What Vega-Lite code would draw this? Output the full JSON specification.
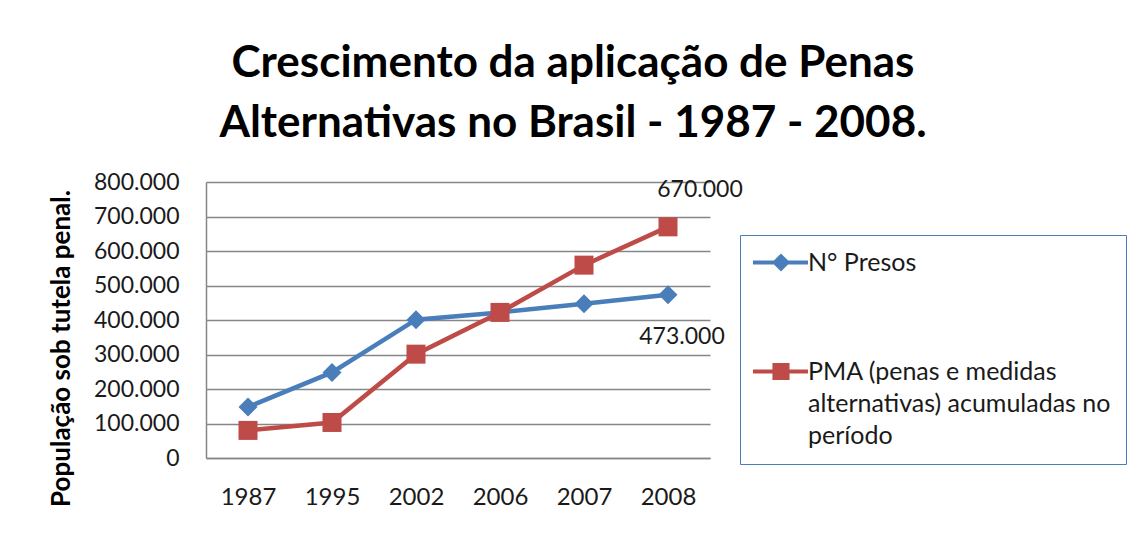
{
  "$schema": "https://vega.github.io/schema/vega-lite/v6.json",
  "width": 504,
  "height": 276,
  "autosize": {"type": "none"},
  "padding": {"left": 206, "top": 182, "right": 419, "bottom": 79},
  "background": "white",
  "config": {
    "locale": {"number": {"decimal": ",", "thousands": ".", "grouping": [3], "currency": ["R$", ""]}},
    "view": {"stroke": null},
    "font": "Lato",
    "style": {"guide-label": {"lineHeight": 32}}
  },
  "title": {
    "text": ["Crescimento da aplicação de Penas", "Alternativas no Brasil - 1987 - 2008."],
    "font": "Lato",
    "fontSize": 44,
    "fontWeight": "bold",
    "color": "#000000",
    "anchor": "middle",
    "dx": 115,
    "offset": 25,
    "lineHeight": 60
  },
  "data": {
    "values": [
      {"year": "1987", "serie": "N° Presos", "value": 148000},
      {"year": "1995", "serie": "N° Presos", "value": 248000},
      {"year": "2002", "serie": "N° Presos", "value": 401000},
      {"year": "2006", "serie": "N° Presos", "value": 422000},
      {"year": "2007", "serie": "N° Presos", "value": 447000},
      {"year": "2008", "serie": "N° Presos", "value": 473000},
      {"year": "1987", "serie": "PMA", "value": 80000},
      {"year": "1995", "serie": "PMA", "value": 103000},
      {"year": "2002", "serie": "PMA", "value": 301000},
      {"year": "2006", "serie": "PMA", "value": 422000},
      {"year": "2007", "serie": "PMA", "value": 559000},
      {"year": "2008", "serie": "PMA", "value": 670000}
    ]
  },
  "encoding": {
    "x": {
      "field": "year", "type": "ordinal",
      "scale": {"type": "point", "padding": 0.5},
      "axis": {
        "title": null, "labelAngle": 0, "labelFontSize": 24, "labelFont": "Lato",
        "labelColor": "#1a1a1a", "labelPadding": 27, "ticks": false,
        "domainColor": "#868686", "domainWidth": 1.5, "grid": false
      }
    },
    "y": {
      "field": "value", "type": "quantitative",
      "scale": {"domain": [0, 800000], "nice": false},
      "axis": {
        "title": "População sob tutela penal.",
        "titleFont": "Lato", "titleFontSize": 26, "titleFontWeight": "bold", "titleColor": "#000000",
        "titleX": -137, "titleY": 166, "titleBaseline": "alphabetic", "titleAlign": "center", "titleAngle": -90,
        "values": [0, 100000, 200000, 300000, 400000, 500000, 600000, 700000, 800000],
        "format": ",.0f",
        "labelFontSize": 23, "labelFont": "Lato", "labelColor": "#1a1a1a", "labelPadding": 27,
        "ticks": false, "domainColor": "#868686", "domainWidth": 1.5,
        "grid": true, "gridColor": "#868686", "gridWidth": 1.3
      }
    }
  },
  "resolve": {"scale": {"shape": "independent", "color": "independent"}},
  "layer": [
    {
      "mark": {"type": "line", "strokeWidth": 4.5},
      "encoding": {
        "color": {
          "field": "serie", "type": "nominal",
          "scale": {"domain": ["N° Presos", "PMA"], "range": ["#4A7EBB", "#BE4B48"]},
          "legend": null
        }
      }
    },
    {
      "mark": {"type": "point", "filled": true, "size": 361, "opacity": 1},
      "encoding": {
        "color": {
          "field": "serie", "type": "nominal",
          "scale": {"domain": ["N° Presos", "PMA"], "range": ["#4A7EBB", "#BE4B48"]},
          "legend": null
        },
        "shape": {
          "field": "serie", "type": "nominal",
          "scale": {"domain": ["N° Presos", "PMA"], "range": ["diamond", "square"]},
          "legend": null
        }
      }
    },
    {
      "transform": [{"filter": "datum.serie == 'PMA' && datum.year == '2008'"}],
      "mark": {"type": "text", "dx": 32, "dy": -37, "fontSize": 23, "font": "Lato", "color": "#1a1a1a"},
      "encoding": {"text": {"field": "value", "type": "quantitative", "format": ",.0f"}}
    },
    {
      "transform": [{"filter": "datum.serie == 'N° Presos' && datum.year == '2008'"}],
      "mark": {"type": "text", "dx": 14, "dy": 42, "fontSize": 23, "font": "Lato", "color": "#1a1a1a"},
      "encoding": {"text": {"field": "value", "type": "quantitative", "format": ",.0f"}}
    },
    {
      "transform": [{"filter": "false"}],
      "mark": {"type": "point", "filled": true, "size": 361, "opacity": 1},
      "encoding": {
        "color": {
          "field": "serie", "type": "nominal",
          "scale": {"domain": ["N° Presos", "PMA"], "range": ["#4A7EBB", "#BE4B48"]},
          "legend": {
            "title": null, "orient": "none", "legendX": 534, "legendY": 53,
            "strokeColor": "#4A7EBB", "padding": 15, "rowPadding": 83,
            "symbolSize": 361, "symbolStrokeWidth": 0,
            "labelFontSize": 25, "labelFont": "Lato", "labelColor": "#1a1a1a",
            "labelLimit": 500, "labelOffset": 28,
            "labelExpr": "datum.label == 'PMA' ? ['PMA (penas e medidas', 'alternativas) acumuladas no', 'período'] : datum.label",
            "encode": {"labels": {"update": {"lineHeight": {"value": 32}}}}
          }
        },
        "shape": {
          "field": "serie", "type": "nominal",
          "scale": {
            "domain": ["N° Presos", "PMA"],
            "range": [
              "M-1.53,-0.22H4.26V0.22H-1.53Z M1.42,-0.95L2.37,0L1.42,0.95L0.47,0Z",
              "M-1.53,-0.22H4.26V0.22H-1.53Z M0.52,-0.9H2.32V0.9H0.52Z"
            ]
          },
          "legend": null
        }
      }
    }
  ]
}
